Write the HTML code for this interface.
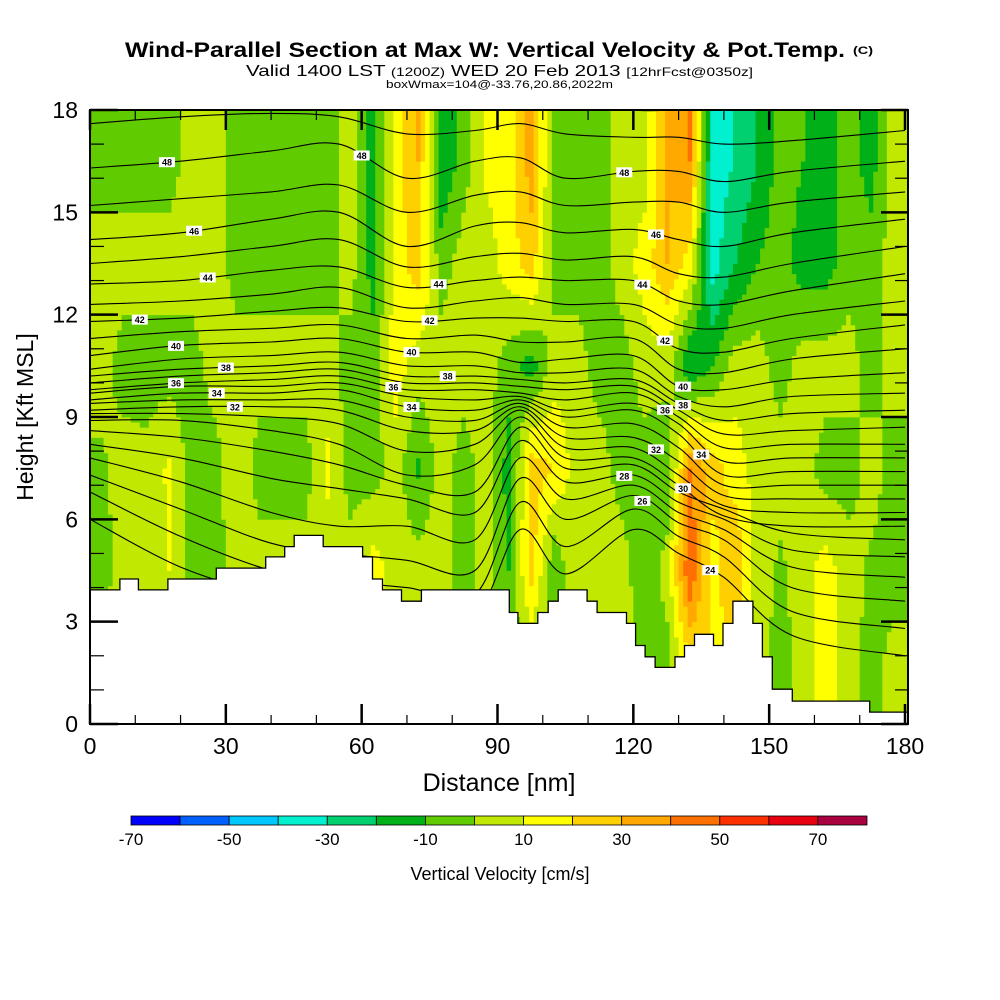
<!DOCTYPE html>
<html><head><meta charset="utf-8"><style>
html,body{margin:0;padding:0;background:#fff;}
svg{display:block;font-family:"Liberation Sans",sans-serif;}
</style></head><body>
<svg id="chart" width="1000" height="1000" viewBox="0 0 1000 1000" xmlns="http://www.w3.org/2000/svg">
<rect x="0" y="0" width="1000" height="1000" fill="#fff"/>
<text x="125" y="57" font-size="21" font-weight="bold" textLength="720" lengthAdjust="spacingAndGlyphs">Wind-Parallel Section at Max W: Vertical Velocity &amp; Pot.Temp.</text>
<text x="853" y="54" font-size="11" font-weight="bold" textLength="20" lengthAdjust="spacingAndGlyphs">(C)</text>
<text x="246" y="76" font-size="16" textLength="507" lengthAdjust="spacingAndGlyphs">Valid 1400 LST <tspan font-size="12">(1200Z)</tspan> WED 20 Feb 2013 <tspan font-size="12">[12hrFcst@0350z]</tspan></text>
<text x="386" y="88" font-size="11" textLength="227" lengthAdjust="spacingAndGlyphs">boxWmax=104@-33.76,20.86,2022m</text>
<g id="heat"></g>
<g id="theta"></g>
<g id="terrain"></g>
<g id="labels"></g>
<g id="axes"></g>
<text transform="translate(33,417) rotate(-90)" text-anchor="middle" font-size="23">Height [Kft MSL]</text>
<text x="499" y="791" text-anchor="middle" font-size="25">Distance [nm]</text>
<g id="cbar"></g>
<text x="500" y="880" text-anchor="middle" font-size="18">Vertical Velocity [cm/s]</text>
</svg>
<script>
// ---- data ----
const colCentersNm = [2.5,7.5,12.5,17.5,22.5,27.5,32.5,37.5,42.5,47.5,52.5,57.5,62.5,67.5,72.5,77.5,82.5,87.5,92.5,97.5,102.5,107.5,112.5,117.5,122.5,127.5,132.5,137.5,142.5,147.5,152.5,157.5,162.5,167.5,172.5,177.5];
const rowCentersKft = [1.5,4.5,7.5,10.5,13.5,16.5];
const w0to3   = [5,5,5,5,5,5,5,5,5,5,5,5,15,5,5,5,-5,5,-5,-5,-5,5,5,5,-5,-5,15,20,15,5,-5,5,15,5,-5,5];
const w3to6   = [-5,5,5,10,-5,-5,5,5,5,5,5,5,15,5,5,5,-5,5,-10,25,-10,10,5,5,-8,5,50,15,30,5,-2,5,15,5,-2,-5];
const w6to9   = [-2,5,3,12,-5,-5,10,-5,-5,-5,12,-5,-5,5,-12,5,-5,5,-15,25,20,5,5,-5,-5,-10,40,25,15,5,5,5,-5,-5,5,-5];
const w9to12  = [5,-5,-5,-5,-5,5,5,5,5,5,5,-5,-5,15,5,5,5,5,-5,-15,5,5,-5,-5,5,5,-20,-10,5,5,-5,5,5,5,-5,5];
const w12to15 = [5,5,5,5,5,5,-5,-5,-5,-5,-5,5,-15,15,25,-5,5,5,15,25,-5,-5,-5,5,15,30,15,-35,-20,-10,-5,-15,-15,-5,-5,5];
const w15to18 = [-5,-5,-5,-5,5,5,-5,-5,-5,-5,-5,5,-15,15,30,-20,-5,12,15,35,-5,-5,-5,5,5,30,40,-35,-30,-20,-5,-10,-15,-5,-15,5];
const colorLevels = [-70,-60,-50,-40,-30,-20,-10,0,10,20,30,40,50,60,70,80];
const colorBins = ["#0000ff","#0060ff","#00c8ff","#00f0d0","#00d070","#00b018","#60cc00","#c0e800","#ffff00","#ffd000","#ffa800","#ff7000","#ff3000","#e80010","#a80040"];
const colorbarLabels = [-70,-50,-30,-10,10,30,50,70];
const terrainStartNm = [0,6.6,10.7,17.2,27.9,38.8,43.0,45.1,51.5,60.2,62.4,64.6,68.8,73.2,92.6,94.5,98.9,101.2,103.4,109.8,112.0,118.5,120.5,122.6,124.8,129.2,131.3,133.5,137.7,139.8,142.0,146.4,148.5,150.7,155.1,172.2];
const terrainKft = [3.93,4.25,3.93,4.25,4.57,4.9,5.2,5.53,5.2,4.9,4.25,3.93,3.6,3.93,3.27,2.95,3.27,3.6,3.93,3.6,3.27,2.95,2.3,1.97,1.66,1.97,2.3,2.63,2.3,2.95,3.6,2.95,1.97,1.02,0.67,0.35];
const thetaNodesNm = [0,20,40,55,70,85,95,105,120,130,140,155,180];
const thetaLevels = [50,49,48,47,46,45,44,43,42,41,40,39,38,37,36,35,34,33,32,31,30,29,28,27,26,25,24];
const thetaHeights = [
 [18.6,18.6,18.5,18.3,18.2,18.3,18.4,18.3,18.0,18.0,18.0,18.0,18.2],
 [17.6,17.8,17.9,17.8,17.3,17.4,17.6,17.3,17.2,17.2,17.0,17.1,17.4],
 [16.3,16.5,16.8,17.0,16.0,16.5,16.6,16.0,16.2,16.2,15.9,16.2,16.5],
 [15.2,15.4,15.6,15.8,15.0,15.5,15.6,15.2,15.3,15.3,15.0,15.3,15.6],
 [14.2,14.4,14.8,15.0,14.0,14.6,14.7,14.4,14.5,14.2,14.0,14.4,14.8],
 [13.5,13.7,14.0,14.2,13.4,13.7,13.8,13.6,13.7,13.2,13.1,13.5,14.0],
 [12.9,13.0,13.3,13.4,12.8,13.0,13.1,13.0,13.0,12.4,12.3,12.7,13.2],
 [12.3,12.4,12.6,12.8,12.2,12.4,12.5,12.3,12.3,11.7,11.6,12.0,12.4],
 [11.8,11.9,12.1,12.2,11.8,11.9,11.9,11.8,11.8,11.0,10.9,11.3,11.7],
 [11.3,11.5,11.6,11.7,11.3,11.4,11.2,11.2,11.3,10.4,10.3,10.7,11.0],
 [10.8,11.1,11.2,11.3,10.9,10.9,10.6,10.7,10.8,9.9,9.8,10.1,10.3],
 [10.4,10.7,10.8,10.9,10.5,10.5,10.3,10.3,10.4,9.6,9.3,9.6,9.7],
 [10.2,10.4,10.5,10.6,10.2,10.2,10.1,10.0,10.1,9.4,8.9,9.1,9.2],
 [10.0,10.2,10.3,10.4,10.0,10.0,9.9,9.8,9.9,9.2,8.5,8.6,8.7],
 [9.8,10.0,10.1,10.2,9.8,9.8,9.7,9.5,9.7,9.0,8.1,8.2,8.2],
 [9.7,9.9,9.9,10.0,9.6,9.5,9.6,9.2,9.4,8.8,7.7,7.8,7.8],
 [9.5,9.7,9.7,9.8,9.3,9.2,9.5,9.0,9.2,8.5,7.3,7.4,7.4],
 [9.4,9.5,9.5,9.5,9.0,8.9,9.4,8.7,8.8,8.1,7.0,7.0,7.0],
 [9.2,9.3,9.3,9.2,8.6,8.6,9.3,8.4,8.4,7.7,6.7,6.6,6.6],
 [9.1,9.1,9.0,8.8,8.0,8.2,9.2,8.1,8.1,7.3,6.4,6.2,6.2],
 [8.9,8.9,8.6,8.2,7.3,7.6,9.0,7.8,7.8,7.0,6.1,5.8,5.8],
 [8.6,8.4,8.0,7.6,7.0,6.8,8.7,7.5,7.6,6.8,6.3,5.6,5.4],
 [8.2,7.8,7.2,6.9,6.6,6.2,8.3,7.1,7.3,6.5,6.0,5.1,4.9],
 [7.8,7.1,6.2,5.8,5.8,5.4,7.8,6.6,7.0,6.2,5.7,4.6,4.3],
 [7.3,6.3,5.3,5.0,4.8,4.5,7.2,6.0,6.7,5.9,5.4,4.0,3.6],
 [6.8,5.5,4.5,4.2,4.0,3.8,6.5,5.2,6.3,5.5,4.9,3.3,2.8],
 [6.0,4.6,3.8,3.6,3.4,3.2,5.7,4.4,5.7,5.0,4.3,2.6,2.0]
];
const labelLevels = [48,48,46,44,42,40,38,36,34,32,44,42,40,38,36,34,48,46,44,42,40,38,36,34,32,30,28,26,24];
const labelNm     = [17,60,23,26,11,19,30,19,28,32,77,75,71,79,67,71,118,125,122,127,131,131,127,135,125,131,118,122,137];
const xTicks = [0,30,60,90,120,150,180];
const yTicks = [0,3,6,9,12,15,18];

// ---- scales ----
const X0=90, X1=905, Y0=724, Y1=110, XR=908;
const xs = nm => X0 + nm*(X1-X0)/180;
const ys = k => Y0 - k*(Y0-Y1)/18;
const NS="http://www.w3.org/2000/svg";
function mk(tag, attrs, parent){const e=document.createElementNS(NS,tag);for(const k in attrs)e.setAttribute(k,attrs[k]);parent.appendChild(e);return e;}

// ---- heatmap ----
const rows=[w0to3,w3to6,w6to9,w9to12,w12to15,w15to18];
function interp1(arr, centers, v){
  if(v<=centers[0]) return arr[0];
  if(v>=centers[centers.length-1]) return arr[arr.length-1];
  for(let i=0;i<centers.length-1;i++){
    if(v<=centers[i+1]){const t=(v-centers[i])/(centers[i+1]-centers[i]);return arr[i]*(1-t)+arr[i+1]*t;}
  }
}
function wAt(nm,k){
  const colVals = rows.map(r=>interp1(r,colCentersNm,nm));
  return interp1(colVals,rowCentersKft,k);
}
function binIndex(v){
  let i=Math.floor((v-colorLevels[0])/10);
  return Math.max(0,Math.min(colorBins.length-1,i));
}
const heat=document.getElementById('heat');
const dnm=1, dk=0.15;
const nCols=Math.ceil((XR-X0)/((X1-X0)/180)/dnm);
for(let c=0;c<nCols;c++){
  const nm=(c+0.5)*dnm;
  let runStart=0, runBin=null;
  const nR=Math.round(18/dk);
  for(let r=0;r<=nR;r++){
    const b = r<nR ? binIndex(wAt(nm,(r+0.5)*dk)) : -1;
    if(b!==runBin){
      if(runBin!==null && runBin>=0){
        const xa=xs(c*dnm), xb=Math.min(XR,xs((c+1)*dnm));
        const rect=mk('rect',{x:xa.toFixed(2),y:ys(r*dk).toFixed(2),width:(xb-xa+0.4).toFixed(2),height:(ys(runStart*dk)-ys(r*dk)+0.4).toFixed(2),fill:colorBins[runBin]},heat);
        
        
      }
      runBin=b; runStart=r;
    }
  }
}

// ---- theta contours ----
function spline(pts){
  let d=`M${pts[0][0].toFixed(1)},${pts[0][1].toFixed(1)}`;
  for(let i=0;i<pts.length-1;i++){
    const p0=pts[Math.max(0,i-1)],p1=pts[i],p2=pts[i+1],p3=pts[Math.min(pts.length-1,i+2)];
    const c1=[p1[0]+(p2[0]-p0[0])/6,p1[1]+(p2[1]-p0[1])/6];
    const c2=[p2[0]-(p3[0]-p1[0])/6,p2[1]-(p3[1]-p1[1])/6];
    d+=`C${c1[0].toFixed(1)},${c1[1].toFixed(1)} ${c2[0].toFixed(1)},${c2[1].toFixed(1)} ${p2[0].toFixed(1)},${p2[1].toFixed(1)}`;
  }
  return d;
}
const theta=document.getElementById('theta');
const cp=mk('clipPath',{id:'plotclip'},theta);
mk('rect',{x:X0,y:Y1,width:XR-X0,height:Y0-Y1},cp);
theta.setAttribute('clip-path','url(#plotclip)');
thetaLevels.forEach((lv,i)=>{
  const pts=thetaNodesNm.map((nm,j)=>[xs(nm),ys(thetaHeights[i][j])]);
  const p=mk('path',{d:spline(pts),fill:'none',stroke:'#000','stroke-width':1.1},theta);
  
  
});

// ---- terrain ----
const terr=document.getElementById('terrain');
let td=`M${X0},${Y0}`;
terrainStartNm.forEach((nm,i)=>{
  const xa=xs(nm), xb=i<terrainStartNm.length-1?xs(terrainStartNm[i+1]):XR;
  td+=` L${xa.toFixed(1)},${ys(terrainKft[i]).toFixed(1)} L${xb.toFixed(1)},${ys(terrainKft[i]).toFixed(1)}`;
});
td+=` L${XR},${Y0} Z`;
const tp=mk('path',{d:td,fill:'#fff',stroke:'#000','stroke-width':1.3},terr);



// ---- contour labels ----
const labels=document.getElementById('labels');
function heightAt(i,nm){
  const h=thetaHeights[i];
  for(let j=0;j<thetaNodesNm.length-1;j++){
    if(nm<=thetaNodesNm[j+1]){const t=(nm-thetaNodesNm[j])/(thetaNodesNm[j+1]-thetaNodesNm[j]);return h[j]*(1-t)+h[j+1]*t;}
  }
  return h[h.length-1];
}
labelLevels.forEach((lv,i)=>{
  const li=thetaLevels.indexOf(lv);
  const x=xs(labelNm[i]), y=ys(heightAt(li,labelNm[i]));
  const g=mk('g',{},labels);
  
  
  mk('rect',{x:x-8,y:y-5,width:16,height:10,fill:'#fff'},g);
  const t=mk('text',{x:x,y:y+3.5,'text-anchor':'middle','font-size':9,'font-weight':'bold'},g);
  t.textContent=lv;
});

// ---- axes ----
const axes=document.getElementById('axes');
mk('rect',{x:X0,y:Y1,width:XR-X0,height:Y0-Y1,fill:'none',stroke:'#000','stroke-width':2},axes);
for(let k=0;k<=18;k++){
  const maj=k%3===0, y=ys(k);
  mk('line',{x1:X0,y1:y,x2:X0+(maj?28:14),y2:y,stroke:'#000','stroke-width':maj?2.5:1.2},axes);
  mk('line',{x1:XR,y1:y,x2:XR-(maj?27:13),y2:y,stroke:'#000','stroke-width':maj?2.5:1.2},axes);
}
for(let nm=0;nm<=180;nm+=10){
  const maj=nm%30===0, x=xs(nm);
  mk('line',{x1:x,y1:Y0,x2:x,y2:Y0-(maj?20:9),stroke:'#000','stroke-width':maj?2.5:1.2},axes);
  mk('line',{x1:x,y1:Y1,x2:x,y2:Y1+(maj?20:10),stroke:'#000','stroke-width':maj?2.5:1.2},axes);
}
yTicks.forEach(v=>{
  const t=mk('text',{x:78,y:ys(v)+8,'text-anchor':'end','font-size':23},axes);
  
  
  t.textContent=v;
});
xTicks.forEach(v=>{
  const t=mk('text',{x:xs(v),y:754,'text-anchor':'middle','font-size':23},axes);
  
  
  t.textContent=v;
});

// ---- colorbar ----
const cbar=document.getElementById('cbar');
const CB0=131, CB1=867, bw=(CB1-CB0)/colorBins.length;
colorBins.forEach((c,i)=>{
  const r=mk('rect',{x:CB0+i*bw,y:816,width:bw,height:9,fill:c,stroke:'#000','stroke-width':0.8},cbar);
  
  
});
colorbarLabels.forEach(v=>{
  const i=colorLevels.indexOf(v);
  const t=mk('text',{x:CB0+i*bw,y:845,'text-anchor':'middle','font-size':17},cbar);
  
  
  t.textContent=v;
});
</script>
</body></html>
